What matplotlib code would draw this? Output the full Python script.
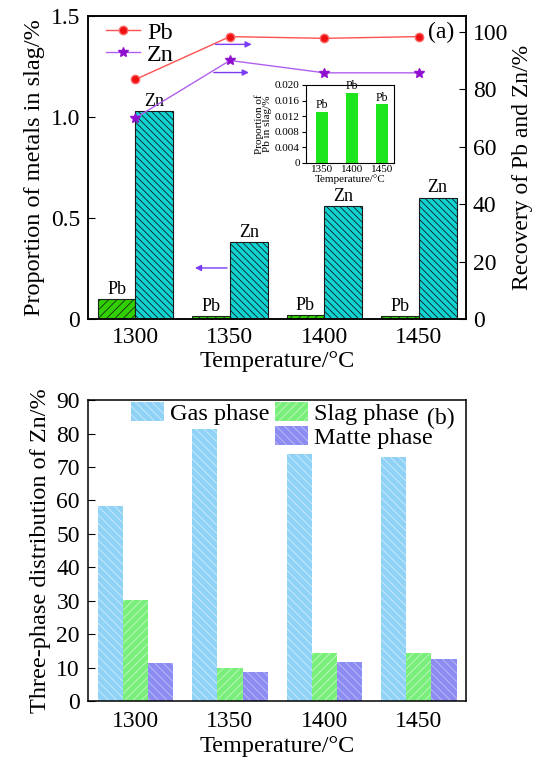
import numpy as np
import matplotlib
matplotlib.use('Agg')
import matplotlib.pyplot as plt
from matplotlib.patches import Patch

plt.rcParams['font.family'] = ['Liberation Serif', 'DejaVu Serif']
plt.rcParams['hatch.linewidth'] = 0.6

# data
temps = ['1300', '1350', '1400', '1450']
pb_slag = [0.10, 0.013, 0.018, 0.015]
zn_slag = [1.03, 0.38, 0.56, 0.60]
pb_recovery = [83.4, 98.3, 97.7, 98.3]
zn_recovery = [70.0, 90.0, 85.7, 85.7]

inset_temps = ['1350', '1400', '1450']
inset_pb = [0.013, 0.018, 0.015]

gas_phase = [58.3, 81.2, 74.0, 73.0]
slag_phase = [30.2, 10.0, 14.3, 14.4]
matte_phase = [11.5, 8.8, 11.7, 12.6]

x = np.arange(len(temps))

fig = plt.figure(figsize=(5.35, 7.58), dpi=100)

# ---------------- panel (a) ----------------
ax = fig.add_axes([0.165, 0.579, 0.706, 0.400])
w = 0.4
b_pb = ax.bar(x - w / 2, pb_slag, w, color='#30d000', edgecolor='#1a2a1a',
              hatch='////', linewidth=0.8)
b_zn = ax.bar(x + w / 2, zn_slag, w, color='#10d4d4', edgecolor='#1a1a1a',
              hatch='\\\\\\\\\\', linewidth=0.8)
for r in b_pb:
    ax.annotate('Pb', (r.get_x() + r.get_width() / 2, r.get_height()),
                xytext=(0, 1), textcoords='offset points', ha='center',
                va='bottom', fontsize=13)
for r in b_zn:
    ax.annotate('Zn', (r.get_x() + r.get_width() / 2, r.get_height()),
                xytext=(0, 1), textcoords='offset points', ha='center',
                va='bottom', fontsize=13)

ax.set_xlim(-0.5, 3.5)
ax.set_ylim(0, 1.5)
ax.set_xticks(x)
ax.set_xticklabels(temps)
ax.set_yticks([0, 0.5, 1.0, 1.5])
ax.set_yticklabels(['0', '0.5', '1.0', '1.5'])
ax.tick_params(axis='y', direction='in', length=5, labelsize=17, pad=6)
ax.tick_params(axis='x', length=0, labelsize=17, pad=6)
ax.set_xlabel('Temperature/°C', fontsize=17.5, labelpad=2)
ax.set_ylabel('Proportion of metals in slag/%', fontsize=17.5, labelpad=4)

ax2 = ax.twinx()
ax2.plot(x, pb_recovery, color='#ff5050', lw=1, marker='o', ms=6,
         mfc='#ee1111', mec='#ff6666', label='Pb')
ax2.plot(x, zn_recovery, color='#b060f0', lw=1, marker='*', ms=7,
         mfc='#9010d0', mec='#9010d0', label='Zn')
ax2.set_ylim(0, 105.5)
ax2.set_yticks([0, 20, 40, 60, 80, 100])
ax2.tick_params(axis='y', direction='in', length=5, labelsize=17, pad=5)
ax2.set_ylabel('Recovery of Pb and Zn/%', fontsize=17, labelpad=3)
ax2.legend(loc='upper left', bbox_to_anchor=(-0.012, 1.053), frameon=False,
           fontsize=17.5, handlelength=1.4, handletextpad=0.3,
           labelspacing=0.0)
ax2.text(0.97, 0.945, '(a)', transform=ax2.transAxes, ha='right', va='center',
         fontsize=17)

arrow_c = '#7b3cf5'
ax2.annotate('', xy=(1.26, 95.6), xytext=(0.82, 95.6),
             arrowprops=dict(arrowstyle='-|>', color=arrow_c, lw=1,
                             mutation_scale=9))
ax2.annotate('', xy=(1.23, 85.8), xytext=(0.80, 85.8),
             arrowprops=dict(arrowstyle='-|>', color=arrow_c, lw=1,
                             mutation_scale=9))
ax2.annotate('', xy=(0.60, 17.8), xytext=(1.0, 17.8),
             arrowprops=dict(arrowstyle='-|>', color=arrow_c, lw=1,
                             mutation_scale=9))

for a in (ax, ax2):
    for s in a.spines.values():
        s.set_linewidth(1.1)

# inset
axi = fig.add_axes([0.572, 0.7854, 0.1645, 0.1025])
xi = np.arange(len(inset_temps))
bi = axi.bar(xi, inset_pb, 0.4, color='#1ee61e')
for r in bi:
    axi.annotate('Pb', (r.get_x() + r.get_width() / 2, r.get_height()),
                 xytext=(0, 0.5), textcoords='offset points', ha='center',
                 va='bottom', fontsize=8.5)
axi.set_xlim(-0.53, 2.4)
axi.set_ylim(0, 0.020)
axi.set_xticks(xi)
axi.set_xticklabels(inset_temps)
axi.set_yticks([0, 0.004, 0.008, 0.012, 0.016, 0.020])
axi.set_yticklabels(['0', '0.004', '0.008', '0.012', '0.016', '0.020'])
axi.tick_params(axis='y', direction='out', length=3, labelsize=8, pad=1.5)
axi.tick_params(axis='x', length=0, labelsize=8, pad=2)
axi.set_xlabel('Temperature/°C', fontsize=8, labelpad=0)
axi.set_ylabel('Proportion of\nPb in slag/%', fontsize=8, labelpad=2,
               linespacing=0.9)
for s in axi.spines.values():
    s.set_linewidth(0.8)

# ---------------- panel (b) ----------------
bx = fig.add_axes([0.165, 0.0752, 0.706, 0.397])
w3 = 0.267
bx.bar(x - w3, gas_phase, w3, color='#8fd2f6', edgecolor=(1, 1, 1, 0.55),
       hatch='\\\\\\\\', linewidth=0, label='Gas phase')
bx.bar(x, slag_phase, w3, color='#7aee7a', edgecolor=(1, 1, 1, 0.55),
       hatch='////', linewidth=0, label='Slag phase')
bx.bar(x + w3, matte_phase, w3, color='#8c8cf2', edgecolor=(1, 1, 1, 0.45),
       hatch='\\\\\\\\', linewidth=0, label='Matte phase')
bx.set_xlim(-0.5, 3.5)
bx.set_ylim(0, 90)
bx.set_xticks(x)
bx.set_xticklabels(temps)
bx.set_yticks(np.arange(0, 91, 10))
bx.tick_params(axis='y', direction='in', length=5, labelsize=17, pad=6)
bx.tick_params(axis='x', length=0, labelsize=17, pad=7)
bx.set_xlabel('Temperature/°C', fontsize=17.5, labelpad=3)
bx.set_ylabel('Three-phase distribution of Zn/%', fontsize=17.5, labelpad=4)
for s in bx.spines.values():
    s.set_linewidth(1.1)

h, l = bx.get_legend_handles_labels()
blank = Patch(facecolor='none', edgecolor='none')
bx.legend([h[0], blank, h[1], h[2]], [l[0], '', l[1], l[2]], ncol=2,
          loc='upper left', bbox_to_anchor=(0.056, 1.065), frameon=False,
          fontsize=17.5, handlelength=1.36, handleheight=0.8,
          handletextpad=0.22, columnspacing=0.25, labelspacing=0.05)
bx.text(0.97, 0.94, '(b)', transform=bx.transAxes, ha='right', va='center',
        fontsize=17)

fig.savefig('out.png', dpi=100)
